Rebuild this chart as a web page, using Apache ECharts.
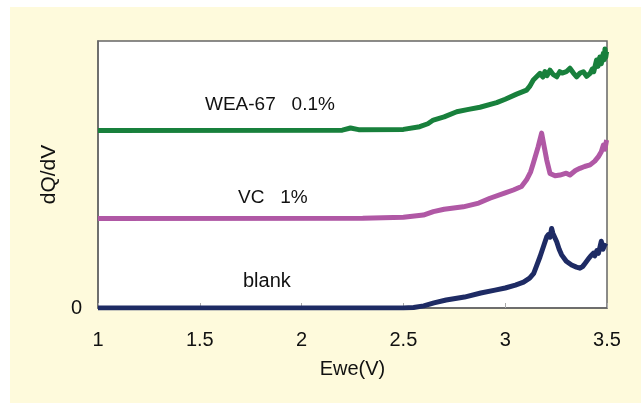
<!DOCTYPE html>
<html>
<head>
<meta charset="utf-8">
<script src="https://cdn.jsdelivr.net/npm/echarts@6/dist/echarts.min.js"></script>
<style>
html,body{margin:0;padding:0;background:#ffffff;}
#chart{width:641px;height:403px;}
</style>
</head>
<body>
<div id="chart"></div>
<script>
// X tick labels and y tick labels
var xTickLabels = ['1', '1.5', '2', '2.5', '3', '3.5'];
var yTickLabels = ['0'];

// blank
var blankE = [1.0, 2.5, 2.55, 2.6, 2.65, 2.71, 2.8, 2.88, 2.95, 3.0, 3.05, 3.09, 3.12, 3.14, 3.155, 3.171, 3.19, 3.204, 3.212, 3.22, 3.228, 3.234, 3.24, 3.253, 3.265, 3.277, 3.3, 3.326, 3.35, 3.367, 3.38, 3.392, 3.41, 3.42, 3.433, 3.44, 3.45, 3.458, 3.466, 3.472, 3.48, 3.488, 3.498];
var blankV = [0, 0, 0.2, 0.8, 1.9, 3.0, 4.1, 5.6, 6.7, 7.5, 8.6, 9.7, 11.2, 13.0, 16, 19.2, 23.5, 26.7, 27.5, 26.5, 29.8, 28.0, 27.5, 24.8, 22, 19.9, 17.5, 16.1, 15.3, 14.9, 15.5, 16.7, 18.5, 19.5, 20.5, 19.5, 21.5, 20.5, 23, 25, 22.0, 23.5, 23];

// VC 1%
var vcE = [1.0, 2.3, 2.5, 2.598, 2.647, 2.7, 2.794, 2.87, 2.925, 3.0, 3.04, 3.08, 3.105, 3.125, 3.138, 3.162, 3.179, 3.19, 3.204, 3.22, 3.245, 3.269, 3.3, 3.318, 3.345, 3.367, 3.39, 3.417, 3.44, 3.458, 3.472, 3.482, 3.49, 3.498];
var vcV = [33.5, 33.6, 34.0, 34.8, 36.1, 37.0, 37.9, 39.3, 41.1, 43.1, 44.2, 45.5, 48, 51, 54.2, 60.4, 65.5, 61, 55.4, 50.4, 49.5, 49.8, 50.5, 49.8, 51.5, 52.3, 53, 53.6, 55, 56.7, 58.5, 61, 59.5, 62.9];

// WEA-67 0.1%
var weaE = [1.0, 2.2, 2.24, 2.28, 2.5, 2.58, 2.62, 2.647, 2.7, 2.762, 2.82, 2.876, 2.958, 3.0, 3.056, 3.105, 3.12, 3.138, 3.171, 3.185, 3.195, 3.205, 3.22, 3.235, 3.253, 3.268, 3.28, 3.3, 3.318, 3.335, 3.351, 3.368, 3.384, 3.4, 3.417, 3.428, 3.435, 3.449, 3.456, 3.465, 3.472, 3.482, 3.487, 3.49, 3.494, 3.498];
var weaV = [66.5, 66.6, 67.4, 66.8, 66.9, 67.9, 69, 70.4, 71.6, 73.5, 74.4, 75.2, 76.9, 78.2, 80.1, 81.6, 83, 85.4, 87.9, 86.5, 88.5, 87.0, 89.1, 87.5, 86.6, 88.5, 88, 88.5, 89.8, 88.0, 86.6, 88.0, 88.5, 86.8, 87.9, 89.5, 88.5, 92.9, 90.5, 94, 91.5, 95.4, 93.0, 97, 94.0, 96];

function pairs(xs, ys) { return xs.map(function (x, i) { return [x, ys[i]]; }); }

var FONT = '"Liberation Sans", Arial, sans-serif';
var chart = echarts.init(document.getElementById('chart'), null, {renderer: 'canvas'});

function lineSeries(name, xs, ys, color) {
  return {
    name: name, type: 'line', data: pairs(xs, ys), showSymbol: false, symbol: 'none',
    smooth: false, lineStyle: {color: color, width: 5, join: 'round', cap: 'butt'},
    itemStyle: {color: color}, clip: true, animation: false
  };
}

chart.setOption({
  animation: false,
  backgroundColor: '#ffffff',
  graphic: [
    {type: 'rect', left: 10, top: 7, shape: {width: 631, height: 396}, style: {fill: '#FEFADC'}, z: -10, silent: true},
    {type: 'text', left: 205, top: 95, style: {text: 'WEA-67   0.1%', font: '19px ' + FONT, fill: '#111'}, z: 10},
    {type: 'text', left: 238, top: 188, style: {text: 'VC   1%', font: '19px ' + FONT, fill: '#111'}, z: 10},
    {type: 'text', left: 243, top: 271, style: {text: 'blank', font: '20px ' + FONT, fill: '#111'}, z: 10}
  ],
  grid: {left: 98, right: 34, top: 41, bottom: 95, show: true, backgroundColor: '#ffffff', borderColor: '#666', borderWidth: 1.5},
  xAxis: {
    type: 'value', min: 1, max: 3.5, interval: 0.5,
    name: 'Ewe(V)', nameLocation: 'middle', nameGap: 51,
    nameTextStyle: {fontSize: 20, fontFamily: FONT, color: '#111'},
    axisLine: {show: true, lineStyle: {color: '#666', width: 1.5}},
    axisTick: {show: true, inside: true, length: 5, lineStyle: {color: '#aaa'}},
    splitLine: {show: false},
    axisLabel: {
      fontSize: 20, fontFamily: FONT, color: '#111', margin: 22,
      formatter: function (v) { var i = Math.round((v - 1) / 0.5); return xTickLabels[i] || ''; }
    }
  },
  yAxis: {
    type: 'value', min: 0, max: 100, interval: 100,
    name: 'dQ/dV', nameLocation: 'middle', nameGap: 38, nameRotate: 90,
    nameTextStyle: {fontSize: 21, fontFamily: FONT, color: '#111'},
    axisLine: {show: true, lineStyle: {color: '#666', width: 1.5}},
    axisTick: {show: false},
    splitLine: {show: false},
    axisLabel: {
      fontSize: 20, fontFamily: FONT, color: '#111', margin: 16,
      formatter: function (v) { return v === 0 ? yTickLabels[0] : ''; }
    }
  },
  series: [
    lineSeries('blank', blankE, blankV, '#1E2B64'),
    lineSeries('VC 1%', vcE, vcV, '#B058A5'),
    lineSeries('WEA-67 0.1%', weaE, weaV, '#18803C')
  ]
});
</script>
</body>
</html>
